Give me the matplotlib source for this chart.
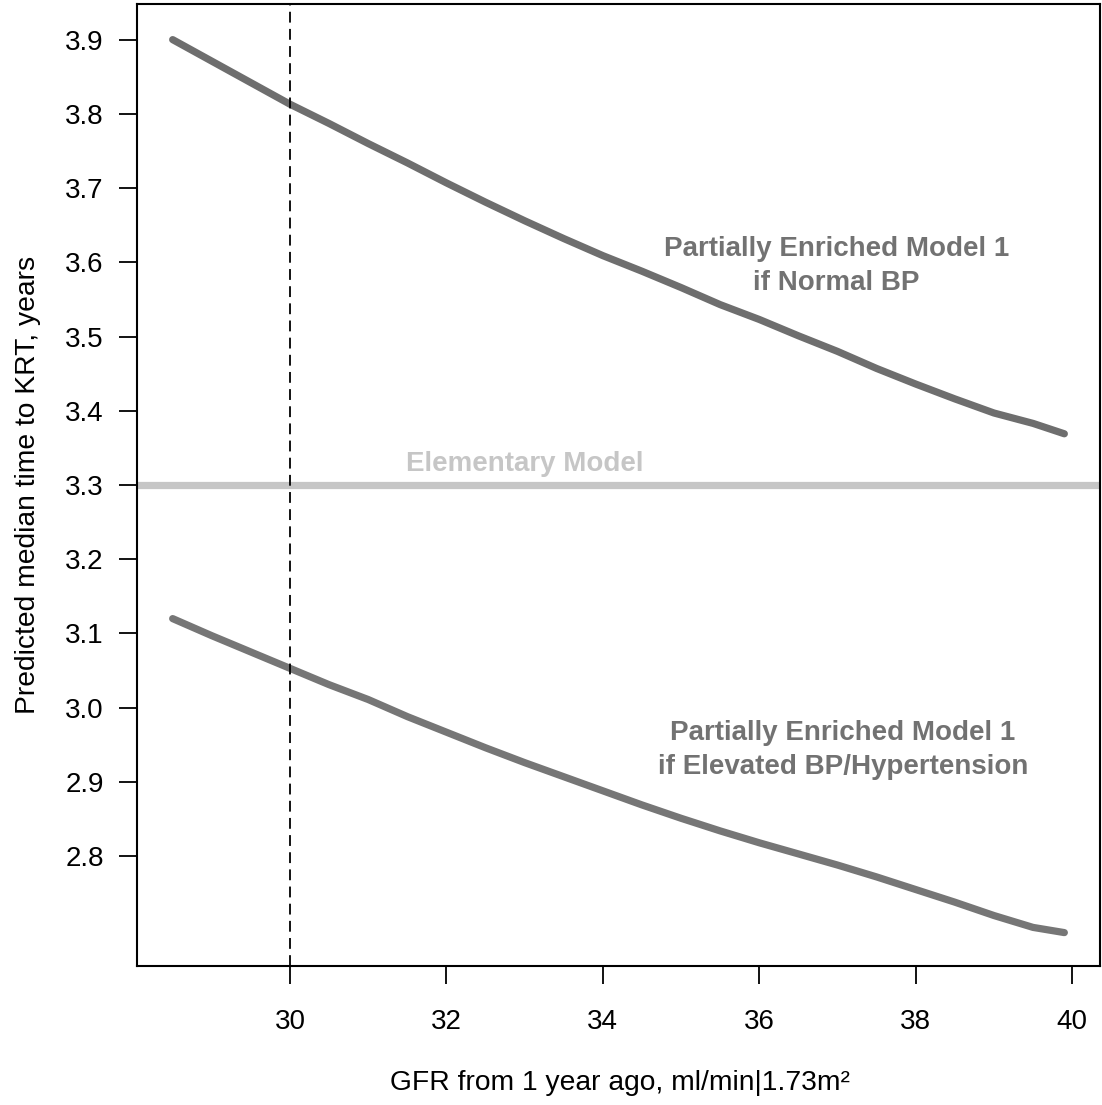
import matplotlib
matplotlib.use("Agg")
import matplotlib.pyplot as plt

plt.rcParams['font.family'] = ['Liberation Sans', 'DejaVu Sans']

gfr = [28.5, 29.0, 29.5, 30.0, 30.5, 31.0, 31.5, 32.0, 32.5, 33.0, 33.5, 34.0,
       34.5, 35.0, 35.5, 36.0, 36.5, 37.0, 37.5, 38.0, 38.5, 39.0, 39.5, 39.9]
normal_bp = [3.900, 3.871, 3.842, 3.813, 3.787, 3.760, 3.734, 3.707, 3.681, 3.656,
             3.632, 3.609, 3.588, 3.566, 3.543, 3.523, 3.501, 3.480, 3.457, 3.436,
             3.416, 3.397, 3.383, 3.369]
elevated_bp = [3.120, 3.097, 3.075, 3.053, 3.031, 3.011, 2.988, 2.967, 2.946, 2.926,
               2.907, 2.888, 2.869, 2.851, 2.834, 2.818, 2.803, 2.788, 2.772, 2.755,
               2.738, 2.720, 2.704, 2.697]
elementary_value = 3.3
reference_gfr = 30
x_ticks = [30, 32, 34, 36, 38, 40]
y_ticks = [2.8, 2.9, 3.0, 3.1, 3.2, 3.3, 3.4, 3.5, 3.6, 3.7, 3.8, 3.9]

fig = plt.figure(figsize=(11.02, 11.05), dpi=100)
ax = fig.add_axes([137/1102, 1-966/1105, (1100-137)/1102, (966-4)/1105])

ax.axhline(elementary_value, color='#c6c6c6', lw=5.2, zorder=1)
ax.axvline(reference_gfr, color='black', lw=1.3, ls=(0, (6, 3.5)), zorder=3)
ax.plot(gfr, normal_bp, color='#6e6e6e', lw=5.2, solid_capstyle='round', zorder=2)
ax.plot(gfr, elevated_bp, color='#767676', lw=5.2, solid_capstyle='round', zorder=2)

ax.text(33.0, 3.311, 'Elementary Model', color='#c6c6c6', fontsize=20,
        fontweight='bold', ha='center', va='bottom')
ax.text(36.99, 3.595, 'Partially Enriched Model 1\nif Normal BP', color='#727272',
        fontsize=20, fontweight='bold', ha='center', va='center', linespacing=1.4)
ax.text(37.07, 2.943, 'Partially Enriched Model 1\nif Elevated BP/Hypertension',
        color='#727272', fontsize=20, fontweight='bold', ha='center', va='center',
        linespacing=1.4)

xr = gfr[-1] - gfr[0]
ax.set_xlim(gfr[0] - 0.04 * xr, gfr[-1] + 0.04 * xr)
ymin, ymax = 2.7, 3.9
yr = ymax - ymin
ax.set_ylim(ymin - 0.04 * yr, ymax + 0.04 * yr)

ax.set_xticks(x_ticks)
ax.set_xticklabels([str(t) for t in x_ticks])
ax.set_yticks(y_ticks)
ax.set_yticklabels([f'{t:.1f}' for t in y_ticks])
ax.tick_params(axis='both', direction='out', length=13, width=1.3, labelsize=20,
               colors='black')
ax.tick_params(axis='x', pad=18)
ax.tick_params(axis='y', pad=11)
for s in ax.spines.values():
    s.set_linewidth(1.5)

fig.text(620/1102, 1-1083/1105, 'GFR from 1 year ago, ml/min|1.73m²', fontsize=20.3,
         ha='center', va='center')
fig.text(28/1102, 1-485/1105, 'Predicted median time to KRT, years', fontsize=20.3,
         ha='center', va='center', rotation=90)

fig.savefig('out.png', dpi=100)
